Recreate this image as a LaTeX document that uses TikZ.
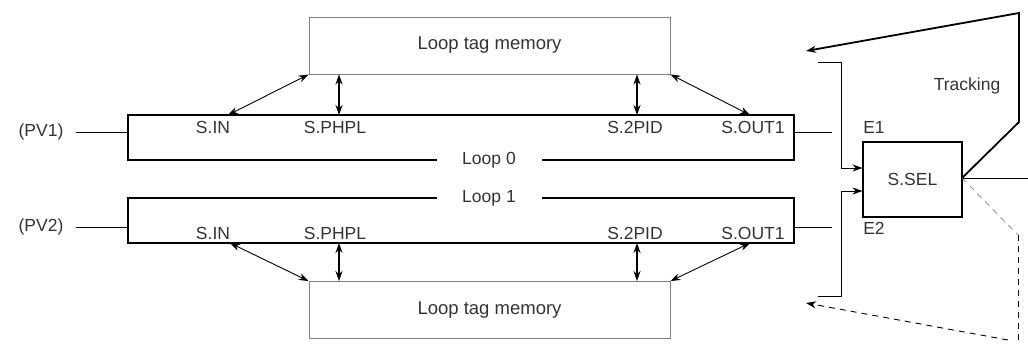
\documentclass[tikz,border=0pt]{standalone}
\usepackage{fontspec}
\setmainfont{Liberation Sans}
\usetikzlibrary{arrows.meta,calc}
\definecolor{txt}{HTML}{333333}
\definecolor{memline}{HTML}{808080}
\begin{document}
\begin{tikzpicture}[x=1pt,y=-1pt,
  every node/.style={font=\fontsize{17.5}{20}\selectfont, text=txt, inner sep=0pt},
  membox/.style={draw=memline, line width=0.9pt, minimum width=361pt, minimum height=57pt, font=\fontsize{18.5}{21}\selectfont},
  loopbox/.style={draw=black, line width=1.4pt, minimum width=666pt, minimum height=45pt},
  looplabel/.style={fill=white, minimum width=105pt, minimum height=16pt},
  tip/.style={-{Stealth[length=10pt,width=7pt]}},
  dtip/.style={{Stealth[length=10pt,width=7pt]}-{Stealth[length=10pt,width=7pt]}},
  thinl/.style={line width=0.9pt},
  vline/.style={line width=1.3pt},
  trackline/.style={line width=1.8pt},
  dashl/.style={dashed, dash pattern=on 6pt off 5pt, line width=0.9pt}
]
\useasboundingbox (0,0) rectangle (1028,343);

% memory boxes
\node[membox] (mem0) at (489.5,45.5) {Loop tag memory};
\node[membox] (mem1) at (489.5,310) {Loop tag memory};

% loop boxes
\node[loopbox] (loop0) at (461,137.5) {};
\node[loopbox] (loop1) at (461,220.5) {};
\node[looplabel] (l0lab) at (489,160) {Loop 0};
\node[looplabel] (l1lab) at (489,198) {Loop 1};

% loop 0 labels
\node (in0) at (213,127) {S.IN};
\node (ph0) at (335,127) {S.PHPL};
\node (pid0) at (635,127) {S.2PID};
\node (out0) at (753,127) {S.OUT1};
% loop 1 labels
\node (in1) at (213,233) {S.IN};
\node (ph1) at (335,233) {S.PHPL};
\node (pid1) at (635,233) {S.2PID};
\node (out1) at (753,233) {S.OUT1};

% PV inputs
\node (pv1) at (41,132) {(PV1)};
\node (pv2) at (41,227) {(PV2)};
\coordinate (pv1s) at (76,132);
\coordinate (pv2s) at (76,227);
\draw[thinl] (pv1s) -- (pv1s -| loop0.west);
\draw[thinl] (pv2s) -- (pv2s -| loop1.west);

% top connections
\coordinate (a0) at (228,115);
\coordinate (b0) at (750,115);
\draw[thinl,dtip] (a0) -- (mem0.south west);
\draw[thinl,dtip] (b0) -- (mem0.south east);
\draw[vline,dtip] (mem0.south -| 339,0) -- (339,115);
\draw[vline,dtip] (mem0.south -| 637,0) -- (637,115);
% bottom connections
\coordinate (a1) at (230,243);
\coordinate (b1) at (750,243);
\draw[thinl,dtip] (a1) -- (mem1.north west);
\draw[thinl,dtip] (b1) -- (mem1.north east);
\draw[vline,dtip] (mem1.north -| 339,0) -- (339,243);
\draw[vline,dtip] (mem1.north -| 637,0) -- (637,243);

% outputs of loops
\coordinate (o0) at (832,132);
\coordinate (o1) at (832,227);
\draw[thinl] (o0 -| loop0.east) -- (o0);
\draw[thinl] (o1 -| loop1.east) -- (o1);

% selector
\node[draw=black, line width=1.1pt, minimum width=99pt, minimum height=75pt] (sel) at (912.5,179.5) {S.SEL};
\node (e1) at (874,127) {E1};
\node (e2) at (874,228) {E2};
\coordinate (e1s) at (818,62);
\coordinate (e2s) at (818,296);
\draw[thinl,tip] (e1s) -| (841,168) -- (sel.west |- 0,168);
\draw[thinl,tip] (e2s) -| (841,191) -- (sel.west |- 0,191);

% output
\coordinate (selout) at (962,178);
\coordinate (outend) at (1028,178);
\draw[thinl] (selout) -- (outend);

% tracking
\coordinate (tr1) at (1019,122);
\coordinate (tr2) at (1019,13);
\coordinate (trend) at (806,51);
\draw[trackline,tip] (selout) -- (tr1) -- (tr2) -- (trend);
\node (track) at (967,86) {Tracking};

% dashed tracking
\coordinate (d1) at (1018,235);
\coordinate (d2) at (1018,343);
\coordinate (dend) at (806,303);
\draw[dashl, draw=memline, line width=0.7pt] (selout) -- (d1);
\draw[dashl] (d1) -- (d2);
\draw[dashl,tip] (1008,340) -- (dend);
\end{tikzpicture}
\end{document}
